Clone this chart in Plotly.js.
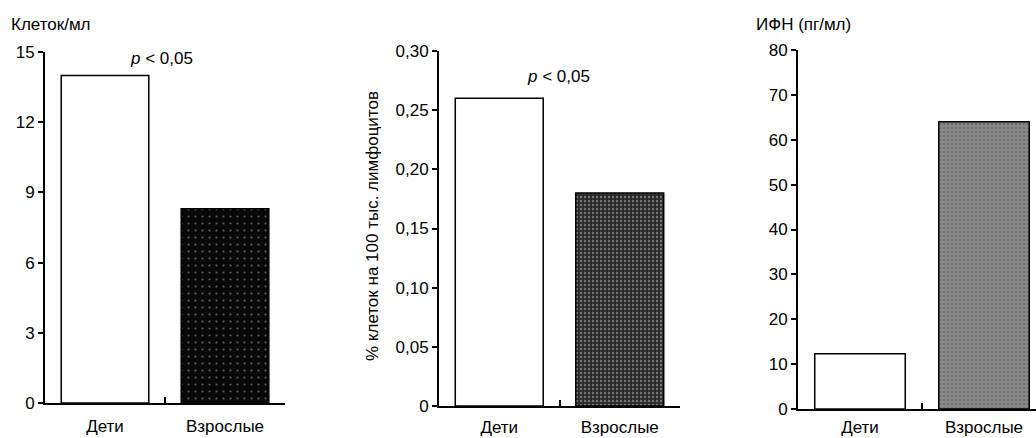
<!DOCTYPE html>
<html>
<head>
<meta charset="utf-8">
<script src="https://cdn.plot.ly/plotly-3.0.1.min.js"></script>
<style>html,body{margin:0;padding:0;background:#fff;}#chart{width:1036px;height:438px;}</style>
</head>
<body>
<div id="chart"></div>
<script>
// Data
const categories = ["Дети", "Взрослые"];
const cellsPerMl = [14.0, 8.3];
const percentCells = [0.26, 0.18];
const ifn = [12.3, 64];

const ticks1 = [0, 3, 6, 9, 12, 15];
const ticks1Text = ["0", "3", "6", "9", "12", "15"];
const ticks2 = [0, 0.05, 0.10, 0.15, 0.20, 0.25, 0.30];
const ticks2Text = ["0", "0,05", "0,10", "0,15", "0,20", "0,25", "0,30"];
const ticks3 = [0, 10, 20, 30, 40, 50, 60, 70, 80];
const ticks3Text = ["0", "10", "20", "30", "40", "50", "60", "70", "80"];

const title1 = "Клеток/мл";
const title2 = "% клеток на 100 тыс. лимфоцитов";
const title3 = "ИФН (пг/мл)";
const pText = "<i>p</i> < 0,05";

const FONT = "'Liberation Sans', Arial, Helvetica, sans-serif";
const W = 1036, H = 438;
const px = v => v / W;
const py = v => (H - v) / H;

function bar(x, y, xa, ya, st) {
  return {
    type: "bar", x: x, y: y, xaxis: xa, yaxis: ya,
    marker: {
      color: ["#ffffff", st.color],
      line: {color: "#000", width: 1.5},
      pattern: {shape: ["", st.shape], fillmode: "overlay", fgcolor: st.fg, fgopacity: st.op,
                size: st.size, solidity: st.sol}
    },
    hoverinfo: "skip", showlegend: false
  };
}

const data = [
  bar(categories, cellsPerMl, "x", "y", {color: "#080808", shape: ".", fg: "#8a8a8a", op: 0.35, size: 7, sol: 0.08}),
  bar(categories, percentCells, "x2", "y2", {color: "#2a2a2a", shape: ".", fg: "#a0a0a0", op: 0.35, size: 4, sol: 0.3}),
  bar(categories, ifn, "x3", "y3", {color: "#8a8a8a", shape: ".", fg: "#1a1a1a", op: 0.4, size: 4, sol: 0.35})
];

const xCommon = {
  type: "category", showline: true, linewidth: 2, linecolor: "#000",
  ticks: "inside", tickson: "boundaries", ticklen: 6, tickwidth: 2, tickcolor: "#000",
  showgrid: false, zeroline: false, fixedrange: true, ticklabelstandoff: 7,
  tickfont: {family: FONT, size: 17, color: "#000"}
};
const yCommon = {
  showline: true, linewidth: 2, linecolor: "#000",
  ticks: "outside", ticklen: 5, tickwidth: 2, tickcolor: "#000",
  showgrid: false, zeroline: false, fixedrange: true,
  tickfont: {family: FONT, size: 17, color: "#000"}
};

const layout = {
  width: W, height: H,
  margin: {l: 0, r: 0, t: 0, b: 0},
  paper_bgcolor: "#fff", plot_bgcolor: "rgba(0,0,0,0)",
  bargap: 0.27,
  font: {family: FONT, size: 17, color: "#000"},
  xaxis: Object.assign({}, xCommon, {domain: [px(45), px(285)], range: [-0.5, 1.5], anchor: "y"}),
  yaxis: Object.assign({}, yCommon, {domain: [py(403), py(52)], range: [0, 15], tickvals: ticks1, ticktext: ticks1Text, anchor: "x"}),
  xaxis2: Object.assign({}, xCommon, {domain: [px(439), px(680)], range: [-0.5, 1.5], anchor: "y2", ticklabelstandoff: 5}),
  yaxis2: Object.assign({}, yCommon, {domain: [py(406), py(51)], range: [0, 0.30], tickvals: ticks2, ticktext: ticks2Text, anchor: "x2"}),
  xaxis3: Object.assign({}, xCommon, {domain: [px(798), 1], range: [-0.5, -0.5 + (1036 - 798) / 124], anchor: "y3", ticklabelstandoff: 2}),
  yaxis3: Object.assign({}, yCommon, {domain: [py(409), py(50)], range: [0, 80], tickvals: ticks3, ticktext: ticks3Text, anchor: "x3"}),
  annotations: [
    {xref: "paper", yref: "paper", x: px(9), y: py(24), xanchor: "left", yanchor: "middle", text: title1, showarrow: false, font: {family: FONT, size: 17}},
    {xref: "paper", yref: "paper", x: px(754), y: py(25), xanchor: "left", yanchor: "middle", text: title3, showarrow: false, font: {family: FONT, size: 17}},
    {xref: "paper", yref: "paper", x: px(372), y: py(226), xanchor: "center", yanchor: "middle", textangle: -90, text: title2, showarrow: false, font: {family: FONT, size: 17}},
    {xref: "paper", yref: "paper", x: px(161), y: py(58), xanchor: "center", yanchor: "middle", text: pText, showarrow: false, font: {family: FONT, size: 17}},
    {xref: "paper", yref: "paper", x: px(558), y: py(76), xanchor: "center", yanchor: "middle", text: pText, showarrow: false, font: {family: FONT, size: 17}}
  ]
};

Plotly.newPlot("chart", data, layout, {staticPlot: true, displayModeBar: false});
</script>
</body>
</html>
